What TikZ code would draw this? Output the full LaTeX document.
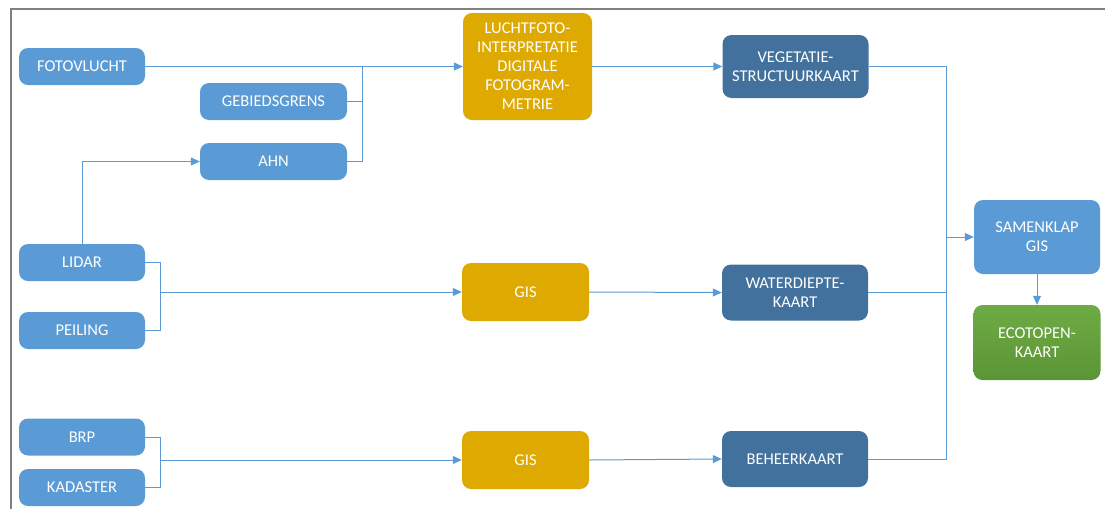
\documentclass[tikz,border=0pt]{standalone}
\usepackage{fontspec}
\setmainfont{Carlito}
\usetikzlibrary{arrows.meta}
\definecolor{lb}{HTML}{5B9BD5}
\definecolor{gold}{HTML}{DEA900}
\definecolor{db}{HTML}{41719C}
\definecolor{grtop}{HTML}{6EAB44}
\definecolor{grbot}{HTML}{5B9536}
\definecolor{ln}{HTML}{5B9BD5}
\definecolor{frm}{HTML}{808080}
\tikzset{
  box/.style={rounded corners=9pt, draw=none, text=white, align=center,
    font=\fontsize{16.5}{19}\selectfont, inner sep=0pt},
  src/.style={box, fill=lb, minimum width=126pt, minimum height=37pt},
  proc/.style={box, fill=gold, minimum width=127pt, minimum height=58pt},
  prod/.style={box, fill=db, minimum width=146pt, minimum height=58pt},
  conn/.style={draw=ln, line width=1pt},
  arr/.style={conn, -{Triangle[length=9pt,width=8pt]}},
}
\begin{document}
\begin{tikzpicture}[x=1pt,y=-1pt]
\useasboundingbox (0,0) rectangle (1105,509);
\draw[frm, line width=1.5pt] (11,509) -- (11,9) -- (1105,9);
% sources
\node[src] (foto) at (82,66.5) {FOTOVLUCHT};
\node[src, minimum width=147pt] (geb) at (273.5,101.5) {GEBIEDSGRENS};
\node[src, minimum width=147pt] (ahn) at (273.5,161.5) {AHN};
\node[src] (lidar) at (82,262.5) {LIDAR};
\node[src] (peil) at (82,330.5) {PEILING};
\node[src] (brp) at (82,437) {BRP};
\node[src] (kad) at (82,487.5) {KADASTER};
% processes
\node[proc, minimum width=129pt, minimum height=107pt] (luft) at (527.5,66.5)
  {LUCHTFOTO-\\INTERPRETATIE\\DIGITALE\\FOTOGRAM-\\METRIE};
\node[proc] (gis1) at (525.5,292) {GIS};
\node[proc] (gis2) at (525.5,460) {GIS};
% products
\node[prod, minimum height=63pt] (veg) at (795.5,66.5) {VEGETATIE-\\STRUCTUURKAART};
\node[prod, minimum height=56pt] (wat) at (795,292.5) {WATERDIEPTE-\\KAART};
\node[prod, minimum height=56pt] (beh) at (795,459) {BEHEERKAART};
\node[box, fill=lb, minimum width=126pt, minimum height=74pt] (sam) at (1037,237) {SAMENKLAP\\GIS};
\node[box, top color=grtop, bottom color=grbot, minimum width=127pt, minimum height=75pt] (eco) at (1037,342.5) {ECOTOPEN-\\KAART};
% junction coordinates
\coordinate (j1) at (362,66.5);
\coordinate (j2) at (160,292);
\coordinate (j3) at (160,460);
\coordinate (j4) at (946,237);
% connectors
\draw[arr] (foto.east) -- (luft.west);
\draw[conn] (geb.east) -| (j1);
\draw[conn] (ahn.east) -| (j1);
\draw[arr] (lidar.north) |- (ahn.west);
\draw[conn] (lidar.east) -| (j2);
\draw[conn] (peil.east) -| (j2);
\draw[arr] (j2) -- (gis1.west);
\draw[conn] (brp.east) -| (j3);
\draw[conn] (kad.east) -| (j3);
\draw[arr] (j3) -- (gis2.west);
\draw[arr] (luft.east) -- (veg.west);
\draw[arr] (gis1.east) -- (wat.west);
\draw[arr] (gis2.east) -- (beh.west);
\draw[conn] (veg.east) -| (j4);
\draw[conn] (wat.east) -| (j4);
\draw[conn] (beh.east) -| (j4);
\draw[arr] (j4) -- (sam.west);
\draw[arr] (sam.south) -- (eco.north);
\end{tikzpicture}
\end{document}
